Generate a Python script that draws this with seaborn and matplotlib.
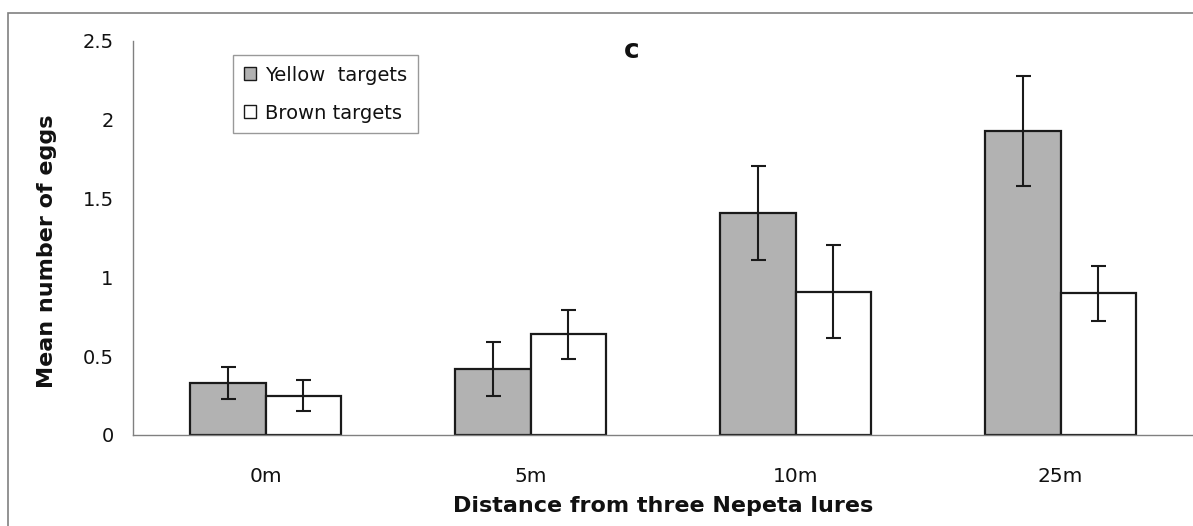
import matplotlib
matplotlib.use("Agg")
import matplotlib.pyplot as plt
import seaborn as sns
import pandas as pd
import numpy as np
from matplotlib.patches import Rectangle

categories = ["0m", "5m", "10m", "25m"]
series_names = ["Yellow  targets", "Brown targets"]
yellow_means = [0.33, 0.42, 1.41, 1.93]
yellow_err = [0.10, 0.17, 0.30, 0.35]
brown_means = [0.25, 0.64, 0.91, 0.90]
brown_err = [0.10, 0.155, 0.295, 0.175]
y_ticks = [0, 0.5, 1, 1.5, 2, 2.5]
y_tick_labels = ["0", "0.5", "1", "1.5", "2", "2.5"]

df = pd.DataFrame({
    "Distance": categories * 2,
    "Series": [series_names[0]] * 4 + [series_names[1]] * 4,
    "Mean": yellow_means + brown_means,
    "Err": yellow_err + brown_err,
})

sns.set_style("white")
plt.rcParams["font.family"] = ["DejaVu Sans"]

W, H = 1193, 526
fig = plt.figure(figsize=(W / 100, H / 100), dpi=100)
ax = fig.add_axes([133 / W, 1 - 435 / H, (W - 133) / W, (435 - 41) / H])

sns.barplot(data=df, x="Distance", y="Mean", hue="Series", order=categories,
            hue_order=series_names, palette=["#b2b2b2", "#ffffff"],
            width=0.57, gap=0, errorbar=None, edgecolor="#1a1a1a",
            linewidth=1.6, ax=ax, legend=True)

# error bars at the bar centres found by seaborn
for cont, name in zip(ax.containers, series_names):
    sub = df[df["Series"] == name].set_index("Distance").loc[categories]
    xs = [p.get_x() + p.get_width() / 2 for p in cont.patches]
    ax.errorbar(xs, sub["Mean"].values, yerr=sub["Err"].values, fmt="none",
                ecolor="#1a1a1a", elinewidth=1.5, capsize=5.4, capthick=1.5,
                zorder=5)

ax.set_ylim(0, 2.5)
ax.set_xlim(-0.5, -0.5 + (W - 133) / 266)
ax.set_yticks(y_ticks)
ax.set_yticklabels(y_tick_labels, fontsize=14)
ax.set_xticks(range(len(categories)))
ax.set_xticklabels(categories, fontsize=14.5)
ax.set_xticks([-0.5, 0.5, 1.5, 2.5, 3.5], minor=True)
ax.tick_params(axis="x", which="major", length=0, pad=23, colors="#111111")
ax.tick_params(axis="x", which="minor", length=5, color="#808080", width=1, direction="out")
ax.tick_params(axis="y", which="major", length=5, color="#808080", labelcolor="#111111",
               width=1, direction="out", pad=9)

for s in ["top", "right"]:
    ax.spines[s].set_visible(False)
for s in ["left", "bottom"]:
    ax.spines[s].set_color("#808080")
    ax.spines[s].set_linewidth(1.0)

ax.set_xlabel("Distance from three Nepeta lures", fontsize=16, fontweight="bold",
              labelpad=7, color="#111111")
ax.set_ylabel("Mean number of eggs", fontsize=16, fontweight="bold", color="#111111")
ax.yaxis.set_label_coords((57 - 133) / (W - 133), (435 - 251) / (435 - 41))
fig.text(632 / W, 1 - 51 / H, "c", fontsize=19, fontweight="bold", ha="center",
         va="center", color="#111111")

leg = ax.legend(loc="upper left",
                bbox_to_anchor=((233 - 133) / (W - 133), 1 - (55 - 41) / (435 - 41)),
                frameon=True, fancybox=False, edgecolor="#808080", fontsize=14,
                handlelength=0.65, handleheight=0.65, handletextpad=0.45,
                borderpad=0.54, borderaxespad=0, labelspacing=0.98)
leg.get_frame().set_linewidth(1.0)
for h in leg.legend_handles:
    h.set_linewidth(1.0)
for t in leg.get_texts():
    t.set_color("#111111")

# outer chart-area frame
fig.add_artist(Rectangle((8 / W, -0.1), 1.2, 1 - 13 / H + 0.1, transform=fig.transFigure,
                         fill=False, edgecolor="#808080", linewidth=1.2, zorder=0))

fig.savefig("out.png", dpi=100)
